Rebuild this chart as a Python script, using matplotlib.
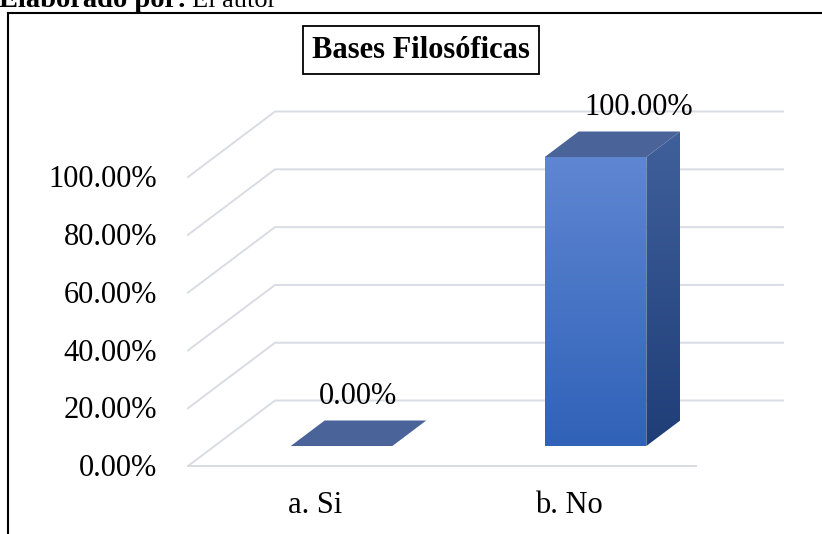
import numpy as np
import matplotlib
matplotlib.use("Agg")
import matplotlib.pyplot as plt
from matplotlib.patches import Polygon
from matplotlib.lines import Line2D
from matplotlib.colors import LinearSegmentedColormap

plt.rcParams["font.family"] = ["Liberation Serif", "DejaVu Serif"]

categories = ["a. Si", "b. No"]
values = [0.0, 100.0]
ticks = [0, 20, 40, 60, 80, 100]
tick_labels = [f"{t:.2f}%" for t in ticks]
value_labels = [f"{v:.2f}%" for v in values]
title = "Bases Filosóficas"

# pseudo-3D floor depth vector, in data units (x: category, y: percent)
DEPTH_X, DEPTH_Y = 0.3425, 22.66
BAR_W = 0.4
BAR_D0, BAR_D1 = 0.305, 0.695

GRID_COLOR = "#d9dce3"
FRONT_TOP, FRONT_BOT = "#5f86d2", "#3062b8"
SIDE_TOP, SIDE_BOT = "#40609c", "#1f3e78"
TOP_COLOR = "#4a6399"


def shift(x, y, d):
    return x + d * DEPTH_X, y + d * DEPTH_Y


def grad_fill(ax, pts, c_top, c_bot):
    poly = Polygon(pts, closed=True, fc="none", ec="none")
    ax.add_patch(poly)
    xs, ys = zip(*pts)
    cmap = LinearSegmentedColormap.from_list("g", [c_bot, c_top])
    grad = np.linspace(0, 1, 256).reshape(-1, 1)
    im = ax.imshow(grad, extent=(min(xs), max(xs), min(ys), max(ys)),
                   origin="lower", cmap=cmap, aspect="auto",
                   interpolation="bilinear", zorder=3)
    im.set_clip_path(poly)


fig = plt.figure(figsize=(8.22, 5.34), dpi=100)
ax = fig.add_axes([0, 0, 1, 1])
ax.set_axis_off()

# walls / floor gridlines
x0, x1 = -0.5, len(categories) - 0.5
for t in ticks:
    bx, by = shift(x0, t, 1)
    ex, ey = shift(x1, t, 1)
    ax.plot([x0, bx, ex], [t, by, ey], color=GRID_COLOR, lw=1.4, zorder=1,
            solid_joinstyle="miter")
ax.plot([x0, x1], [0, 0], color=GRID_COLOR, lw=1.4, zorder=1)

# bars
for i, v in enumerate(values):
    xl, xr = i - BAR_W / 2, i + BAR_W / 2
    top = [shift(xl, v, BAR_D0), shift(xr, v, BAR_D0),
           shift(xr, v, BAR_D1), shift(xl, v, BAR_D1)]
    if v > 0:
        front = [shift(xl, 0, BAR_D0), shift(xr, 0, BAR_D0),
                 shift(xr, v, BAR_D0), shift(xl, v, BAR_D0)]
        side = [shift(xr, 0, BAR_D0), shift(xr, 0, BAR_D1),
                shift(xr, v, BAR_D1), shift(xr, v, BAR_D0)]
        grad_fill(ax, front, FRONT_TOP, FRONT_BOT)
        grad_fill(ax, side, SIDE_TOP, SIDE_BOT)
    ax.add_patch(Polygon(top, closed=True, fc=TOP_COLOR, ec="none", zorder=4))

    label_dx = (42.5 + 0.27 * v) / 254
    ax.text(i + label_dx, v + 21.6, value_labels[i], ha="center",
            va="baseline", fontsize=22, zorder=5)
    ax.text(i, -16.3, categories[i], ha="center", va="baseline", fontsize=22)

for t, lab in zip(ticks, tick_labels):
    ax.text(-0.622, t - 3.5, lab, ha="right", va="baseline", fontsize=22)

ax.set_xlim(-1.2402, 1.9961)
ax.set_ylim(-23.53, 161.25)

# title box
fig.text(421 / 822, 1 - 50 / 534, title, ha="center", va="center",
         fontsize=22, fontweight="bold",
         bbox=dict(boxstyle="square,pad=0.3", fc="white", ec="black", lw=1.3))

# outer frame (left and top edges)
fig.add_artist(Line2D([8 / 822, 8 / 822], [0, 1 - 13 / 534],
                      transform=fig.transFigure, color="black", lw=1.5))
fig.add_artist(Line2D([8 / 822, 1], [1 - 13 / 534, 1 - 13 / 534],
                      transform=fig.transFigure, color="black", lw=1.5))

# caption, cut at the top edge as in the source page
fig.text(-1 / 822, 1 - 7 / 534, "Elaborado por:", ha="left", va="baseline",
         fontsize=20.5, fontweight="bold")
fig.text(192 / 822, 1 - 7 / 534, "El autor", ha="left", va="baseline",
         fontsize=19)

fig.savefig("out.png", dpi=100)
